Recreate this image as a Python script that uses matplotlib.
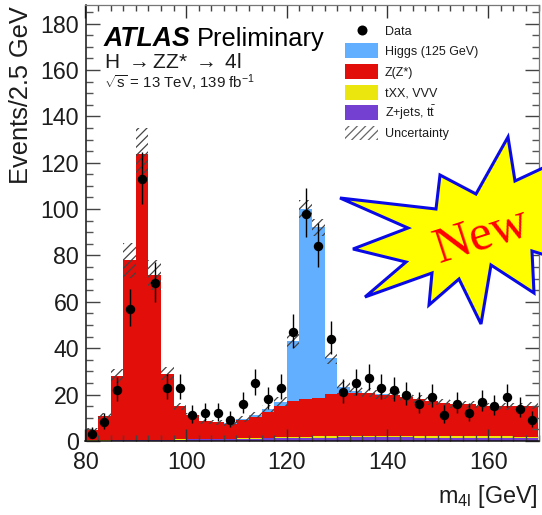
import matplotlib
matplotlib.use("Agg")
import numpy as np
import matplotlib.pyplot as plt
from matplotlib.patches import Polygon, Rectangle
from matplotlib.lines import Line2D
from matplotlib.ticker import MultipleLocator
from matplotlib.transforms import Affine2D

plt.rcParams['font.family'] = ['Liberation Sans', 'DejaVu Sans']
plt.rcParams['mathtext.fontset'] = 'custom'
plt.rcParams['mathtext.rm'] = 'Liberation Sans'
plt.rcParams['mathtext.it'] = 'Liberation Sans:italic'
plt.rcParams['mathtext.bf'] = 'Liberation Sans:bold'
plt.rcParams['hatch.linewidth'] = 0.9

# ---- data ----
edges = np.arange(80, 172.5, 2.5)
centers = edges[:-1] + 1.25
data = [3, 8, 22, 57, 113, 68, 23, 23, 11, 12, 12, 9, 16, 25, 18, 23, 47, 98, 84, 44,
        21, 25, 27, 23, 22, 20, 16, 19, 11, 16, 12, 17, 15, 19, 14, 9]
err_lo = [1.6, 2.8, 4.7, 7.5, 10.6, 8.2, 4.8, 4.8, 3.3, 3.4, 3.4, 3.0, 4.0, 5.0, 4.2, 4.8, 6.8, 9.9, 9.1, 6.6,
          4.6, 5.0, 5.2, 4.8, 4.7, 4.4, 4.0, 4.3, 3.3, 4.0, 3.4, 4.1, 3.9, 4.3, 3.7, 3.0]
err_hi = [2.9, 4.0, 5.7, 8.6, 11.7, 9.3, 5.8, 5.8, 4.4, 4.6, 4.6, 4.1, 5.1, 6.1, 5.3, 5.8, 7.9, 11.0, 10.2, 7.7,
          5.6, 6.1, 6.3, 5.8, 5.7, 5.5, 5.1, 5.4, 4.4, 5.1, 4.6, 5.2, 4.9, 5.4, 4.8, 4.1]
zjets = [0.2, 0.2, 0.3, 0.3, 0.4, 0.4, 0.5, 0.6, 0.7, 0.7, 0.8, 0.8, 0.9, 1.0, 1.1, 1.2, 1.3, 1.4, 1.5, 1.5,
         1.6, 1.6, 1.6, 1.6, 1.6, 1.6, 1.5, 1.5, 1.5, 1.4, 1.4, 1.4, 1.3, 1.3, 1.2, 1.1]
txx = [0.1, 0.1, 0.1, 0.1, 0.1, 0.1, 0.1, 0.1, 0.2, 0.2, 0.2, 0.2, 0.2, 0.3, 0.3, 0.4, 0.4, 0.5, 0.5, 0.6,
       0.6, 0.7, 0.7, 0.7, 0.7, 0.7, 0.7, 0.7, 0.7, 0.7, 0.7, 0.7, 0.7, 0.7, 0.6, 0.6]
zz = [4.3, 10.4, 27.5, 77.5, 123.4, 71.0, 28.3, 14.3, 10.1, 7.6, 7.0, 6.5, 8.0, 9.2, 11.3, 13.4, 15.4, 16.3, 16.6, 18.2,
      18.5, 18.3, 18.2, 17.7, 17.4, 16.7, 16.0, 15.1, 14.3, 13.9, 13.7, 13.1, 13.0, 13.0, 13.2, 13.5]
higgs = [0, 0, 0, 0, 0, 0, 0, 0, 0, 0, 0, 0.2, 0.4, 0.7, 1.3, 2.0, 26.0, 81.8, 73.5, 15.5,
         2.8, 0.9, 0.4, 0.2, 0.1, 0, 0, 0, 0, 0, 0, 0, 0, 0, 0, 0]
unc = [0.9, 1.3, 3.0, 7.5, 11.0, 6.5, 2.8, 1.5, 1.2, 1.1, 1.1, 1.1, 1.2, 1.3, 1.5, 1.8, 3.0, 4.0, 3.5, 2.5,
       2.2, 2.0, 1.9, 1.9, 1.8, 1.8, 1.7, 1.7, 1.6, 1.6, 1.6, 1.5, 1.5, 1.5, 1.5, 1.5]
components = [("Z+jets, t$\\bar{\\mathrm{t}}$", zjets, '#7340D2'),
              ("tXX, VVV", txx, '#ECE60F'),
              ("Z(Z*)", zz, '#E10E0A'),
              ("Higgs (125 GeV)", higgs, '#63AFFF')]
x_ticks = [80, 100, 120, 140, 160]
y_ticks = list(range(0, 200, 20))

# starburst outline, figure pixels
star_x = [340, 436, 440, 476, 508, 515, 545, 545, 532, 534, 491, 481, 459, 429, 432, 365, 406, 353, 408]
star_y = [198, 209, 175, 194, 137, 181, 167, 255, 251, 293, 265, 324, 279, 305, 273, 297, 262, 249, 228]

W, H = 542, 515
TEXT = '#1c1c1c'
fig = plt.figure(figsize=(W / 100, H / 100), dpi=100)
ax = fig.add_axes([85.5 / W, 1 - 441 / H, (538.5 - 85.5) / W, (441 - 5) / H])
px = Affine2D().scale(1, -1).translate(0, H)

bottom = np.zeros(len(centers))
for label, vals, col in components:
    vals = np.array(vals)
    ax.bar(centers, vals, width=2.5, bottom=bottom, color=col, lw=0, zorder=2, align='center')
    bottom = bottom + vals
total = bottom
unc = np.array(unc)
ax.bar(centers, 2 * unc, width=2.5, bottom=total - unc, fill=False, hatch='////',
       edgecolor='#444444', lw=0, zorder=3)
ax.errorbar(centers, data, yerr=[err_lo, err_hi], fmt='o', color='black', ms=6.8, mew=0,
            elinewidth=1.0, capsize=0, zorder=4)

ax.set_xlim(80, 170)
ax.set_ylim(0, 188)
ax.set_xticks(x_ticks)
ax.set_yticks(y_ticks)
ax.xaxis.set_minor_locator(MultipleLocator(2.5))
ax.yaxis.set_minor_locator(MultipleLocator(5))
ax.tick_params(which='major', axis='y', direction='in', length=10, width=1.0, color='#444444',
               right=True, labelsize=16.7, labelcolor=TEXT, pad=4.5)
ax.tick_params(which='major', axis='x', direction='in', length=9, width=1.0, color='#333333',
               top=True, labelsize=16.7, labelcolor=TEXT, pad=7)
ax.tick_params(which='minor', axis='y', direction='in', length=5, width=1.0, color='#555555', right=True)
ax.tick_params(which='minor', axis='x', direction='in', length=4.5, width=1.0, color='#444444', top=True)
ax.set_axisbelow(False)
for s, c, w in [('left', '#111111', 1.1), ('bottom', '#111111', 1.1), ('top', '#777777', 0.9), ('right', '#777777', 0.9)]:
    ax.spines[s].set_color(c)
    ax.spines[s].set_linewidth(w)
    ax.spines[s].set_zorder(6)

fig.text(21, 6, "Events/2.5 GeV", transform=px, rotation=90, ha='center', va='top', fontsize=18.3, color=TEXT)
fig.text(538, 497, "m$_{\\mathrm{4l}}$ [GeV]", transform=px, ha='right', va='center', fontsize=16.8, color=TEXT)

fig.text(104, 46, "ATLAS", transform=px, fontsize=19.2, fontweight='bold', fontstyle='italic',
         color='black', va='baseline')
fig.text(197, 46, "Preliminary", transform=px, fontsize=18.3, color='black', va='baseline')
fig.text(104, 68, "H $\\rightarrow$ZZ* $\\rightarrow\\;$4l", transform=px, fontsize=15, color=TEXT, va='baseline')
fig.text(104, 88, "$\\sqrt{\\mathrm{s}}$ = 13 TeV, 139 fb$^{\\mathrm{-1}}$", transform=px,
         fontsize=10.8, color=TEXT, va='baseline')

# legend, laid out row by row
fig.add_artist(Line2D([361.7], [30], marker='o', ls='none', color='black', ms=7.2, mew=0, transform=px, zorder=5))
fig.text(385, 34.7, "Data", transform=px, fontsize=9, color=TEXT, va='baseline')
rows = [(components[3][0], components[3][2], 43, 55.0),
        (components[2][0], components[2][2], 63.5, 76.3),
        (components[1][0], components[1][2], 84.5, 96.0),
        (components[0][0], components[0][2], 105, 116.7)]
for label, col, y0, base in rows:
    fig.add_artist(Rectangle((345, y0), 33, 15, facecolor=col, edgecolor='none', transform=px, zorder=5))
    fig.text(385, base, label, transform=px, fontsize=9, color=TEXT, va='baseline')
fig.add_artist(Rectangle((345, 126), 33, 14, facecolor='none', edgecolor='#666666', hatch='////', lw=0,
                         transform=px, zorder=5))
fig.text(385, 137.3, "Uncertainty", transform=px, fontsize=9, color=TEXT, va='baseline')

star = Polygon(np.column_stack([star_x, star_y]), closed=True, facecolor='#FFFF00', edgecolor='#0A0AE6',
               lw=2.2, transform=px, zorder=10, joinstyle='miter')
fig.add_artist(star)
fig.text(482, 236, "New", transform=px, rotation=18, rotation_mode='anchor', ha='center', va='center',
         fontsize=37, family='Liberation Serif', color='#FF0000', zorder=11)

fig.savefig('out.png', dpi=100)
